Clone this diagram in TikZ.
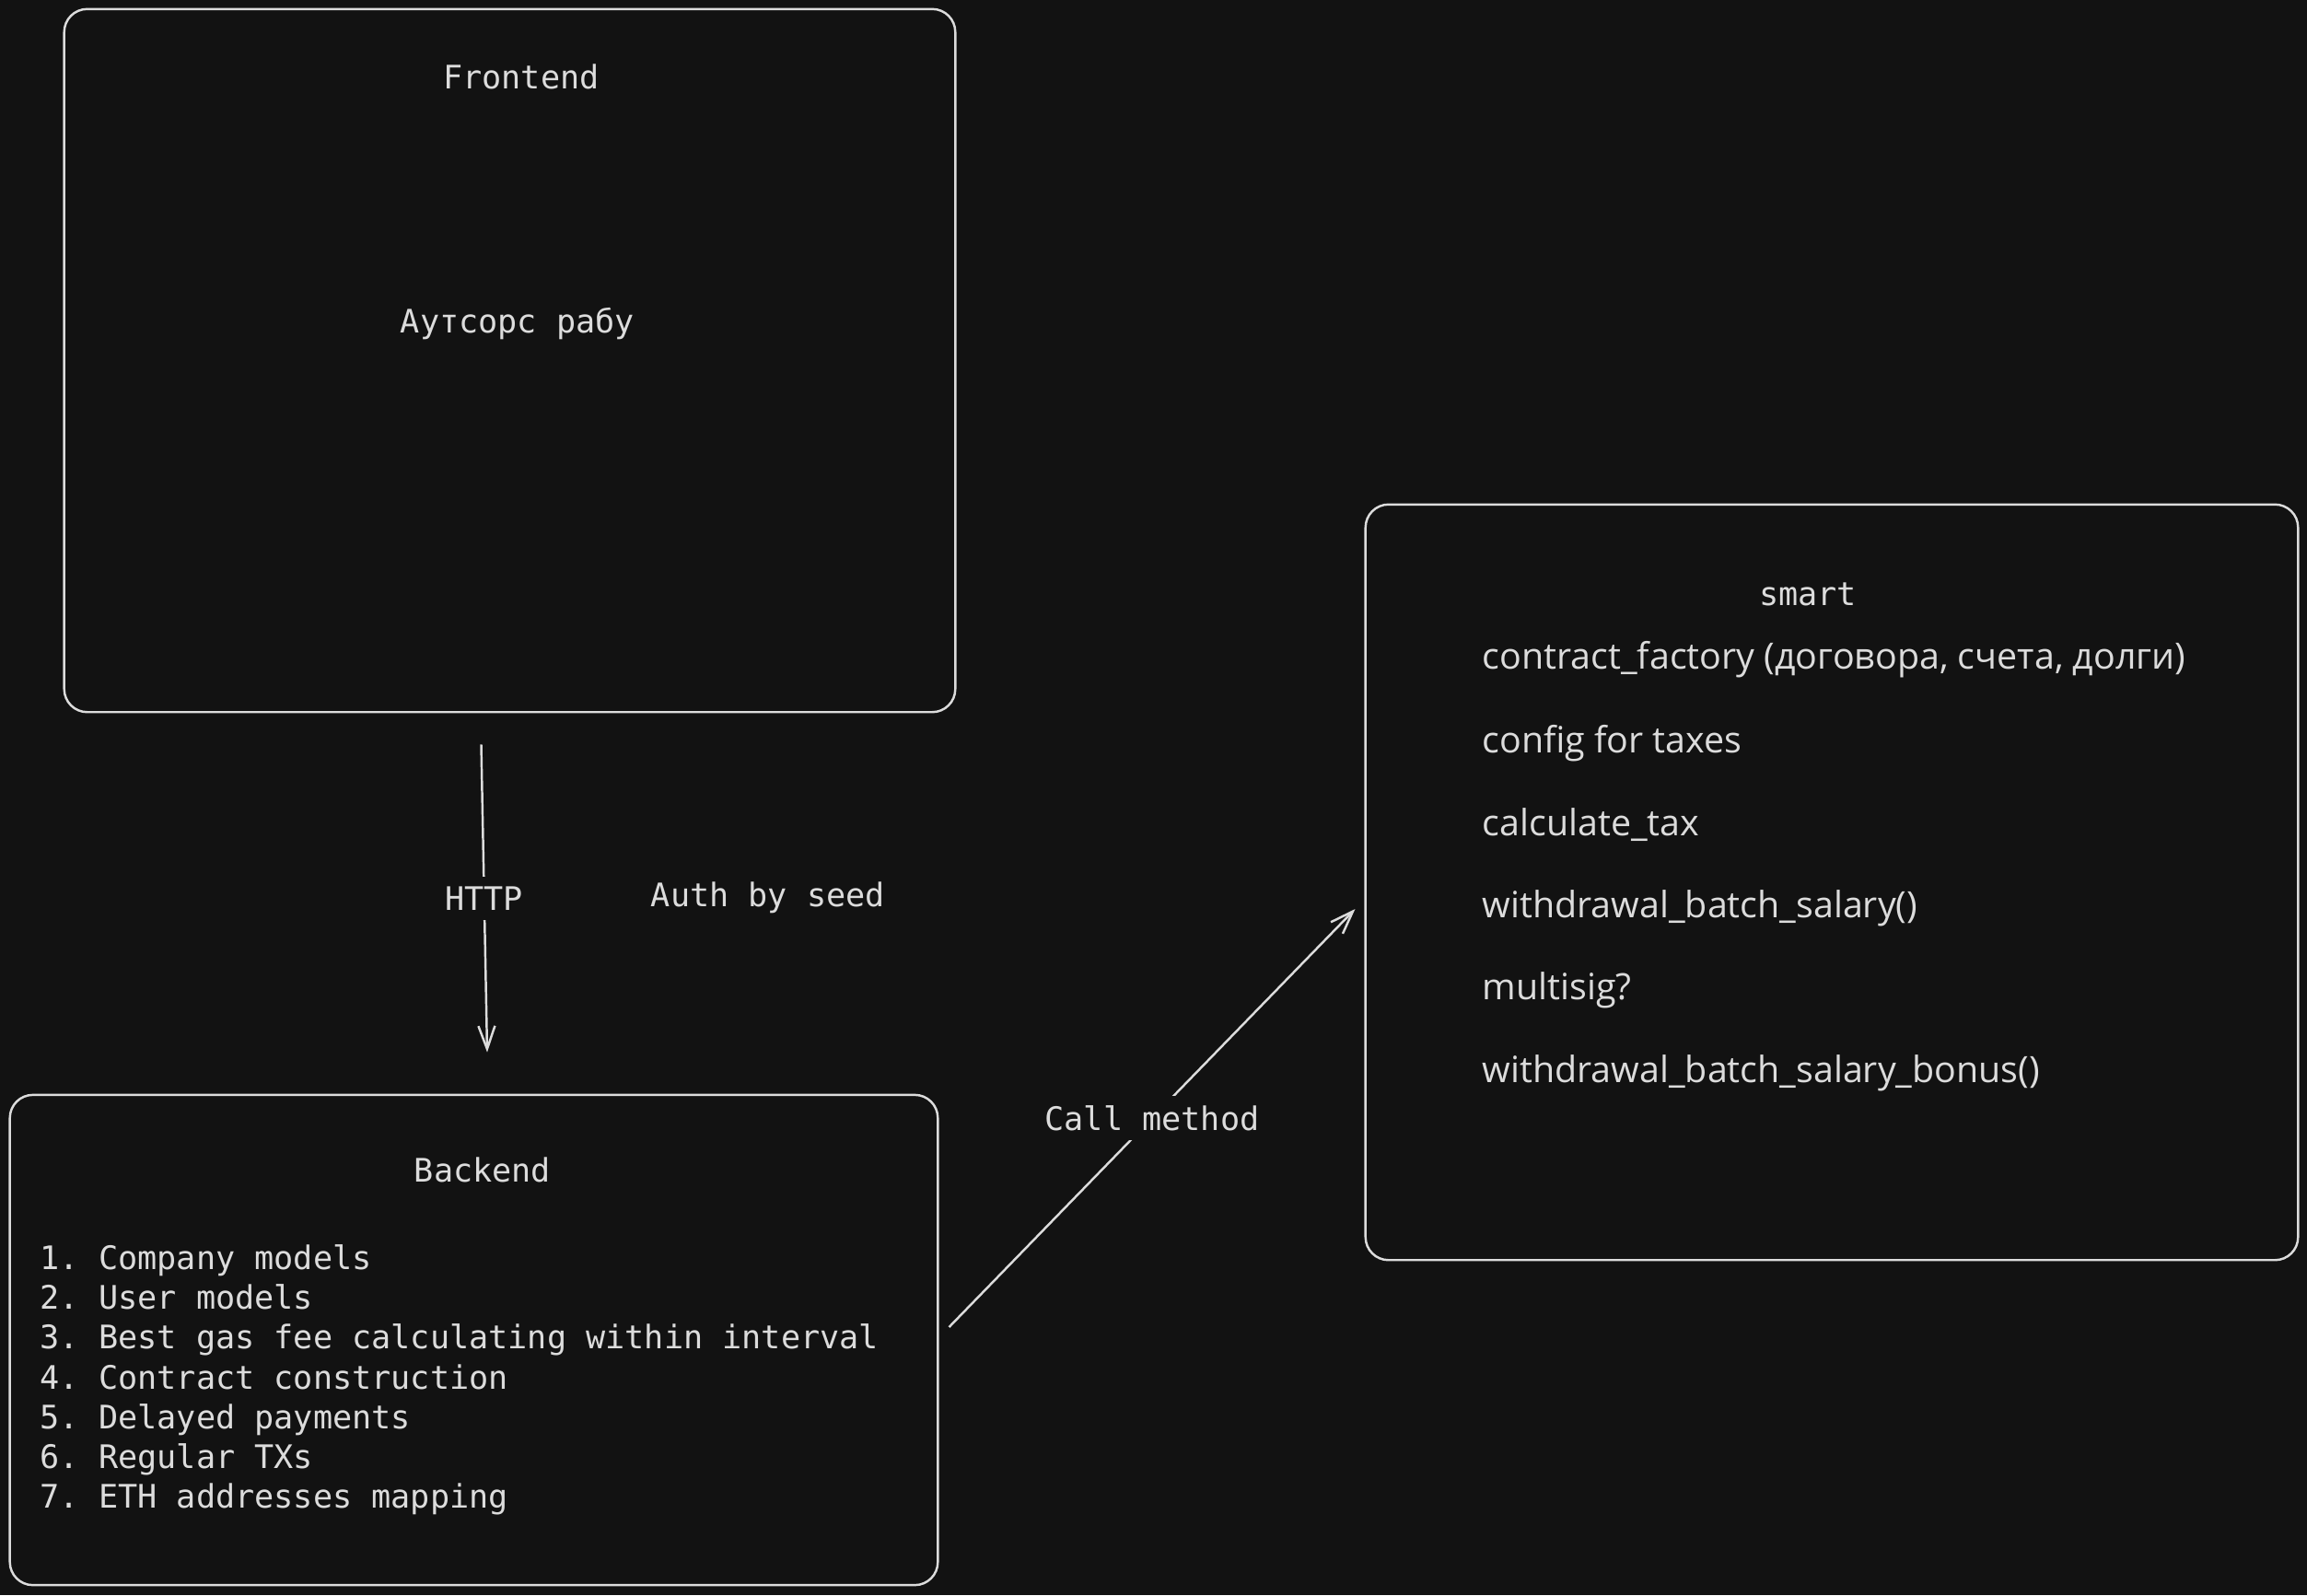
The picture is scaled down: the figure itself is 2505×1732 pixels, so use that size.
\documentclass[tikz,border=0pt]{standalone}
\usepackage{fontspec}
\setmonofont{DejaVu Sans Mono}
\newfontfamily\handfont{Open Sans}
\usetikzlibrary{arrows.meta,calc,positioning}
\definecolor{canvas}{HTML}{121212}
\definecolor{chalk}{HTML}{DCDCDC}

\tikzset{
  block/.style={draw=chalk,line width=0.7pt,rounded corners=0.25cm,inner sep=0pt},
  mono/.style={text=chalk,inner sep=0pt,font=\ttfamily\fontsize{10}{12.3}\selectfont},
  hand/.style={text=chalk,inner sep=0pt,anchor=west,font=\handfont\fontsize{11.2}{13}\selectfont},
  flow/.style={draw=chalk,line width=0.7pt,-{Straight Barb[length=2.5mm,width=1.8mm]}},
  tag/.style={mono,fill=canvas,inner sep=3pt},
}

\begin{document}
\begin{tikzpicture}[x=0.01cm,y=-0.01cm]
\fill[canvas] (0,0) rectangle (2505,1732);
\useasboundingbox (0,0) rectangle (2505,1732);
% boxes
\node[block,minimum width=9.67cm,minimum height=7.63cm] (front) at (553.5,391.5) {};
\node[block,minimum width=10.07cm,minimum height=5.32cm] (back) at (514.5,1455) {};
\node[block,minimum width=10.12cm,minimum height=8.20cm] (smart) at (1989,958) {};
% frontend
\node[mono] (frontTitle) at (566,83) {Frontend};
\node[mono] (frontNote) at (562,351) {Аутсорс рабу};
% backend
\node[mono] (backTitle) at (524,1270) {Backend};
\node[mono,anchor=west,align=left] (backList) at (43,1498.5) {1. Company models\\
2. User models\\
3. Best gas fee calculating within interval\\
4. Contract construction\\
5. Delayed payments\\
6. Regular TXs\\
7. ETH addresses mapping};
% smart contract
\node[mono] (smartTitle) at (1963,645) {smart};
\node[hand] (factory) at (1609,716) {contract\_factory (договора, счета, долги)};
\node[hand] (taxCfg) at (1609,807) {config for taxes};
\node[hand] (calcTax) at (1609,896) {calculate\_tax};
\node[hand] (batch) at (1609,986) {withdrawal\_batch\_salary()};
\node[hand] (multisig) at (1609,1075) {multisig?};
\node[hand] (bonus) at (1609,1165) {withdrawal\_batch\_salary\_bonus()};
% connectors
\coordinate (httpA) at ($(front.south)+(-31,34)$);
\coordinate (httpB) at ($(back.north)+(14.5,-45)$);
\draw[flow] (httpA) -- node[tag] (http) {HTTP} (httpB);
\node[mono] (auth) at (834,975) {Auth by seed};
\coordinate (callA) at ($(back.east)+(11,-14)$);
\coordinate (callB) at ($(smart.west)+(-10,29)$);
\draw[flow] (callA) -- node[tag] (call) {Call method} (callB);
\end{tikzpicture}
\end{document}
